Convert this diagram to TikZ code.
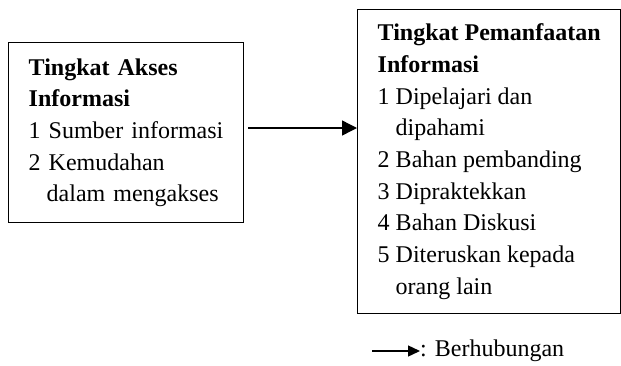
\documentclass[tikz,border=0pt]{standalone}
\usepackage{fontspec}
\setmainfont{Liberation Serif}
\usetikzlibrary{arrows.meta}
\begin{document}
\begin{tikzpicture}[x=1pt,y=-1pt,
  box/.style={draw,line width=1.4pt,anchor=north west,align=left,
    inner ysep=0pt,
    font=\fontsize{24}{31.7}\selectfont},
  conn/.style={line width=1.4pt,-{Triangle[length=15pt,width=15pt]}},
  legconn/.style={line width=1.4pt,-{Triangle[length=12pt,width=11pt]}},
  lbl/.style={font=\fontsize{24}{31.7}\selectfont,inner sep=0pt}]
\useasboundingbox (0,0) rectangle (621,365);
\node[box,inner xsep=20pt,text width=195pt,minimum height=180pt] (akses) at (8,42)
 {\textbf{Tingkat Akses}\\ \textbf{Informasi}\\ 1 Sumber informasi\\ 2 Kemudahan\\ \hspace*{0.75em}dalam mengakses};
\node[box,inner xsep=0pt,minimum width=263pt,minimum height=304pt] (manfaat) at (357,9)
 {\textbf{Tingkat Pemanfaatan}\\ \textbf{Informasi}\\ 1 Dipelajari dan\\ \hspace*{0.75em}dipahami\\ 2 Bahan pembanding\\ 3 Dipraktekkan\\ 4 Bahan Diskusi\\ 5 Diteruskan kepada\\ \hspace*{0.75em}orang lain};
\coordinate (a0) at (248,128);
\draw[conn] (a0) -- (a0 -| manfaat.west);
\coordinate (l0) at (372,351);
\coordinate (l1) at (420,351);
\draw[legconn] (l0) -- (l1);
\node[lbl,anchor=west] (leg) at (l1) {: Berhubungan};
\end{tikzpicture}
\end{document}
